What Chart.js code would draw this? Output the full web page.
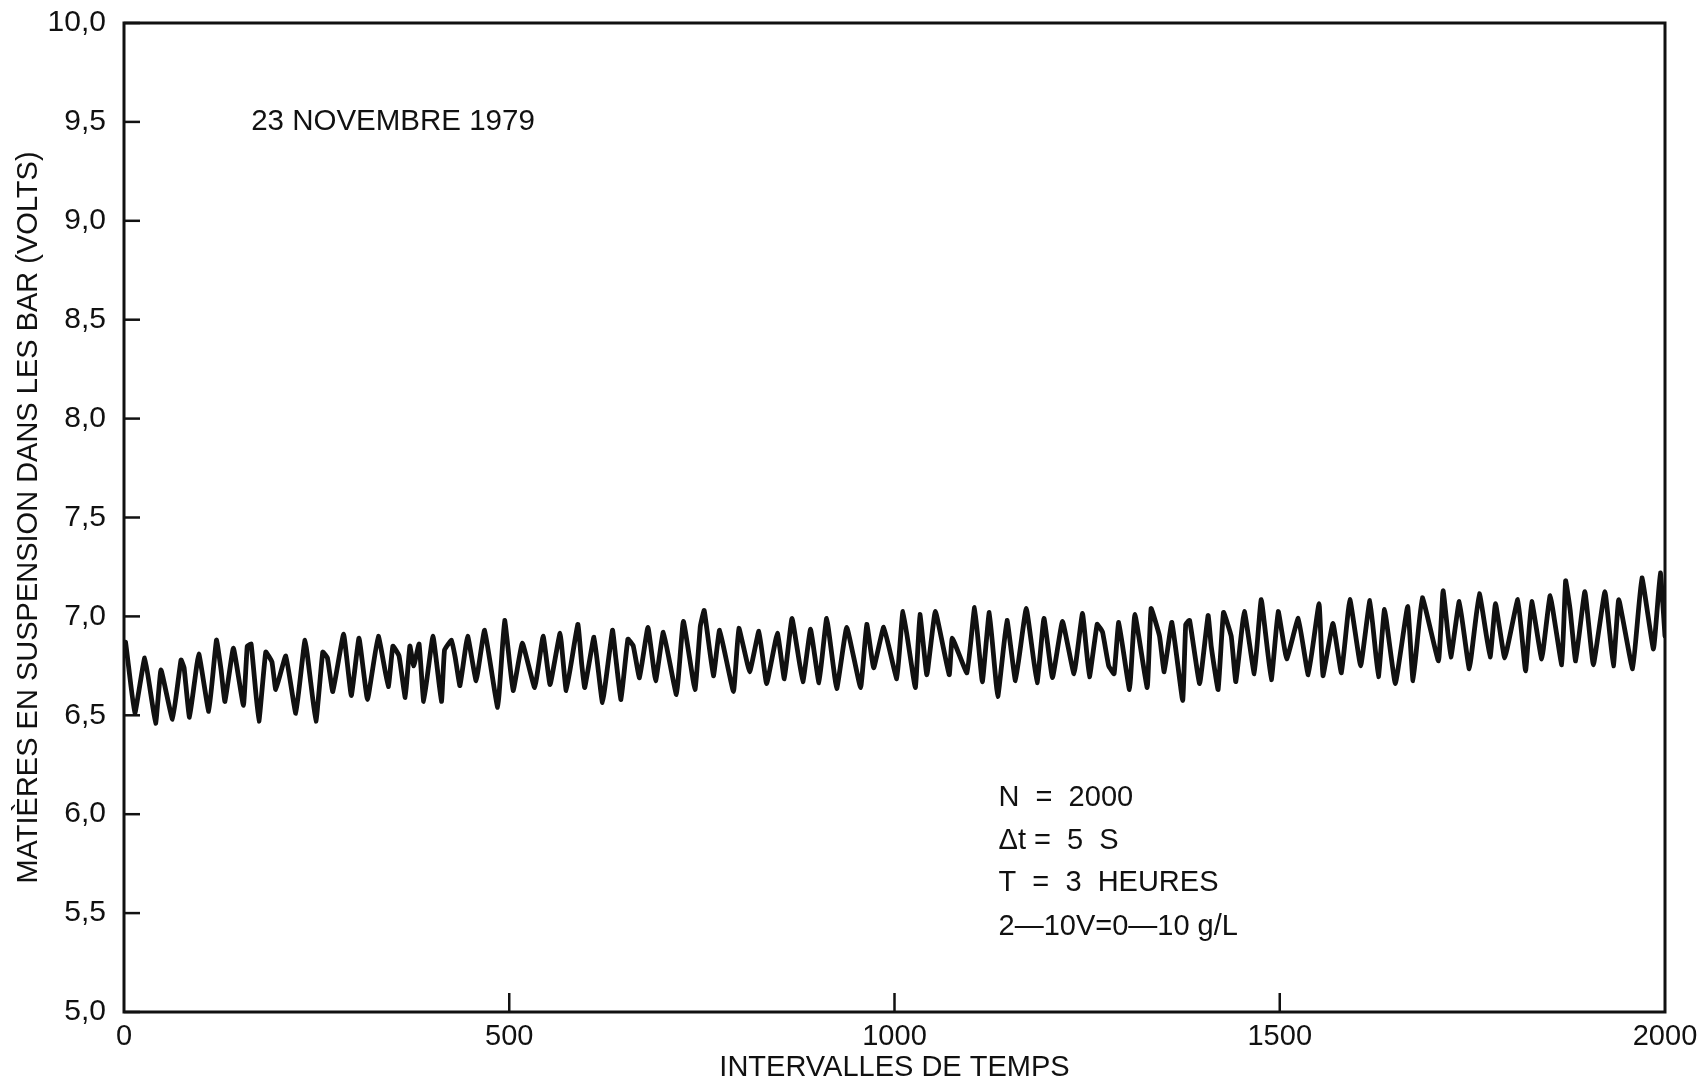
<!DOCTYPE html>
<html>
<head>
<meta charset="utf-8">
<script src="https://cdn.jsdelivr.net/npm/chart.js"></script>
<style>
  html, body { margin: 0; padding: 0; background: #fff; }
</style>
</head>
<body>
<canvas id="chart-line" width="1703" height="1082"></canvas>
<script>
// intervalles de temps (x) et tension lue (y), pics et creux
const intervalles = [0, 2, 14, 27, 41, 48, 63, 74, 78, 85, 97, 110, 120, 126, 131, 142, 155, 160, 165, 175, 184, 192, 197, 210, 223, 235, 249,
  258, 264, 271, 285, 295, 305, 316, 330, 343, 349, 357, 365, 371, 376, 383, 389, 401, 412, 416, 425, 430, 436, 446, 457, 468, 485, 494,
  505, 517, 533, 544, 553, 566, 574, 589, 594, 598, 610, 621, 634, 638, 645, 654, 661, 669, 680, 690, 700, 717, 726, 741,
  748, 753, 765, 773, 791, 798, 812, 824, 834, 848, 857, 867, 881, 891, 902, 912, 925, 938, 956, 964, 973, 986,
  1003, 1011, 1027, 1033, 1042, 1053, 1071, 1075, 1094, 1104, 1114, 1123, 1134, 1146, 1157, 1171, 1185, 1194, 1205, 1218, 1233,
  1244, 1253, 1263, 1270, 1278, 1285, 1291, 1305, 1312, 1328, 1333, 1344, 1350, 1360, 1374, 1378, 1383, 1396, 1407, 1411, 1420, 1427, 1437, 1443, 1454, 1467, 1476, 1489,
  1498, 1509, 1524, 1537, 1551, 1556, 1569, 1580, 1591, 1605, 1617, 1628, 1636, 1650, 1666, 1673, 1685, 1706, 1712, 1722,
  1733, 1746, 1759, 1773, 1780, 1792, 1809, 1819, 1827, 1840, 1851, 1866, 1871, 1877, 1884, 1896, 1907, 1922, 1933, 1940, 1958, 1970, 1985, 1994, 2000];

const volts = [6.80, 6.87, 6.51, 6.79, 6.46, 6.73, 6.48, 6.78, 6.74, 6.49, 6.81, 6.52, 6.88, 6.73, 6.57, 6.84, 6.55, 6.85, 6.86, 6.47, 6.82, 6.77, 6.63, 6.80, 6.51, 6.88, 6.47,
  6.82, 6.79, 6.62, 6.91, 6.60, 6.89, 6.58, 6.90, 6.645, 6.85, 6.80, 6.59, 6.85, 6.75, 6.86, 6.57, 6.90, 6.57, 6.83, 6.88, 6.79, 6.65, 6.90, 6.675, 6.93, 6.54, 6.98,
  6.625, 6.865, 6.64, 6.90, 6.655, 6.915, 6.625, 6.96, 6.76, 6.64, 6.895, 6.565, 6.93, 6.80, 6.58, 6.885, 6.85, 6.69, 6.945, 6.675, 6.92, 6.605, 6.975, 6.63,
  6.95, 7.03, 6.70, 6.93, 6.62, 6.94, 6.72, 6.925, 6.66, 6.915, 6.685, 6.99, 6.67, 6.935, 6.665, 6.99, 6.635, 6.945, 6.64, 6.96, 6.74, 6.945,
  6.685, 7.025, 6.64, 7.01, 6.705, 7.025, 6.705, 6.89, 6.715, 7.045, 6.67, 7.02, 6.595, 6.98, 6.675, 7.04, 6.665, 6.99, 6.69, 6.975, 6.71,
  7.015, 6.695, 6.96, 6.92, 6.75, 6.71, 6.97, 6.63, 7.01, 6.64, 7.04, 6.90, 6.72, 6.97, 6.575, 6.96, 6.98, 6.66, 7.005, 6.85, 6.63, 7.02, 6.90, 6.67, 7.025, 6.71, 7.085, 6.68,
  7.025, 6.785, 6.99, 6.705, 7.065, 6.70, 6.965, 6.715, 7.085, 6.75, 7.08, 6.695, 7.035, 6.66, 7.05, 6.675, 7.095, 6.775, 7.13, 6.795,
  7.075, 6.735, 7.115, 6.795, 7.065, 6.79, 7.085, 6.725, 7.075, 6.785, 7.105, 6.755, 7.18, 7.03, 6.775, 7.125, 6.755, 7.125, 6.75, 7.085, 6.735, 7.195, 6.835, 7.22, 6.90];

const xTicks = [0, 500, 1000, 1500, 2000];
const yTicks = [5.0, 5.5, 6.0, 6.5, 7.0, 7.5, 8.0, 8.5, 9.0, 9.5, 10.0];

const dateText = '23 NOVEMBRE 1979';
const datePos = [165, 9.5];
const noteLines = ['N  =  2000', '\u0394t =  5  S', 'T  =  3  HEURES', '2\u201410V=0\u201410 g/L'];
const noteX = 1135;
const noteY = [6.08, 5.865, 5.65, 5.43];

const ink = '#111';
const fontFamily = '"Liberation Sans", Arial, Helvetica, sans-serif';

const points = intervalles.map((x, i) => ({ x: x, y: volts[i] }));

const framePlugin = {
  id: 'frame',
  afterDraw(chart) {
    const c = chart.ctx;
    const a = chart.chartArea;
    const xs = chart.scales.x;
    const ys = chart.scales.y;
    c.save();
    c.strokeStyle = ink;
    c.lineWidth = 3;
    c.strokeRect(a.left, a.top, a.right - a.left, a.bottom - a.top);

    // ticks vers l'intérieur
    c.lineWidth = 2.5;
    yTicks.forEach(v => {
      const py = ys.getPixelForValue(v);
      c.beginPath();
      c.moveTo(a.left, py);
      c.lineTo(a.left + 16, py);
      c.stroke();
    });
    xTicks.slice(1, -1).forEach(v => {
      const px = xs.getPixelForValue(v);
      c.beginPath();
      c.moveTo(px, a.bottom);
      c.lineTo(px, a.bottom - 19);
      c.stroke();
    });

    c.fillStyle = ink;
    c.font = '29.5px ' + fontFamily;
    c.textBaseline = 'middle';
    c.textAlign = 'left';
    c.fillText(dateText, xs.getPixelForValue(datePos[0]), ys.getPixelForValue(datePos[1]));
    c.font = '29px ' + fontFamily;
    noteLines.forEach((t, i) => {
      c.fillText(t, xs.getPixelForValue(noteX), ys.getPixelForValue(noteY[i]));
    });
    c.restore();
  }
};

const ctx = document.getElementById('chart-line');
const myLineChart = new Chart(ctx, {
  type: 'line',
  data: {
    datasets: [{
      data: points,
      borderColor: ink,
      borderWidth: 4.8,
      borderJoinStyle: 'round',
      borderCapStyle: 'round',
      pointRadius: 0,
      tension: 0.1,
      fill: false
    }]
  },
  options: {
    responsive: false,
    animation: false,
    layout: { padding: { top: 23, right: 38, left: 0, bottom: 0 } },
    plugins: {
      legend: { display: false },
      tooltip: { enabled: false }
    },
    scales: {
      x: {
        type: 'linear',
        min: 0,
        max: 2000,
        afterBuildTicks: s => { s.ticks = xTicks.map(v => ({ value: v })); },
        afterFit: s => { s.height = 70; s.paddingLeft = 0; s.paddingRight = 0; },
        grid: { display: false, drawTicks: false },
        border: { display: false },
        ticks: {
          color: ink,
          padding: 8,
          font: { family: fontFamily, size: 29 },
          callback: v => String(v)
        },
        title: {
          display: true,
          text: 'INTERVALLES DE TEMPS',
          color: ink,
          padding: { top: 0, bottom: 0 },
          font: { family: fontFamily, size: 29, lineHeight: 1.0 }
        }
      },
      y: {
        min: 5,
        max: 10,
        afterBuildTicks: s => { s.ticks = yTicks.map(v => ({ value: v })); },
        afterFit: s => { s.width = 124; s.paddingTop = 0; s.paddingBottom = 0; },
        grid: { display: false, drawTicks: false },
        border: { display: false },
        ticks: {
          color: ink,
          padding: 18,
          font: { family: fontFamily, size: 30 },
          callback: v => v.toFixed(1).replace('.', ',')
        },
        title: {
          display: true,
          text: 'MATIÈRES EN SUSPENSION DANS LES BAR (VOLTS)',
          color: ink,
          padding: { top: 12, bottom: 0 },
          font: { family: fontFamily, size: 29, lineHeight: 1.2 }
        }
      }
    }
  },
  plugins: [framePlugin]
});
</script>
</body>
</html>
